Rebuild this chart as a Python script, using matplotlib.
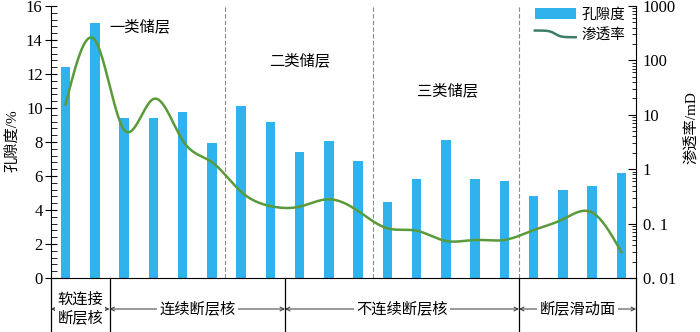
import numpy as np
import matplotlib
matplotlib.use("Agg")
import matplotlib.pyplot as plt
from matplotlib.lines import Line2D
from matplotlib.legend_handler import HandlerLine2D
from matplotlib.ticker import MultipleLocator, LogLocator, FixedLocator, FixedFormatter, NullFormatter

plt.rcParams['font.family'] = ['Liberation Serif', 'Noto Sans CJK SC']
plt.rcParams['axes.unicode_minus'] = False

# ---- data ----
porosity = [12.4, 15.0, 9.4, 9.4, 9.75, 7.95, 10.1, 9.2, 7.4, 8.05,
            6.9, 4.45, 5.8, 8.1, 5.85, 5.7, 4.8, 5.2, 5.4, 6.2]
permeability = [15.6, 237, 5.3, 19.5, 3.4, 1.35, 0.385, 0.21, 0.205, 0.28,
                0.17, 0.082, 0.074, 0.048, 0.05, 0.05, 0.076, 0.12, 0.16, 0.030]
reservoir_labels = ['一类储层', '二类储层', '三类储层']
zone_labels = ['软连接\n断层核', '连续断层核', '不连续断层核', '断层滑动面']
zone_bounds = [-0.5, 1.5, 7.5, 15.5, 19.5]
class_bounds = [5.45, 10.52, 15.5]
right_ticks = [0.01, 0.1, 1, 10, 100, 1000]
right_ticklabels = ['0. 01', '0. 1', '1', '10', '100', '1000']

BAR_C = '#30b2ec'
LINE_C = '#5b9a3a'
LEG_LINE_C = '#3b7f64'


def natural_spline(x, y, xs):
    x = np.asarray(x, float); y = np.asarray(y, float)
    n = len(x)
    h = np.diff(x)
    A = np.zeros((n, n)); b = np.zeros(n)
    A[0, 0] = 1; A[-1, -1] = 1
    for i in range(1, n - 1):
        A[i, i - 1] = h[i - 1]
        A[i, i] = 2 * (h[i - 1] + h[i])
        A[i, i + 1] = h[i]
        b[i] = 6 * ((y[i + 1] - y[i]) / h[i] - (y[i] - y[i - 1]) / h[i - 1])
    M = np.linalg.solve(A, b)
    idx = np.clip(np.searchsorted(x, xs) - 1, 0, n - 2)
    x0 = x[idx]; x1 = x[idx + 1]; hh = x1 - x0
    t0 = x1 - xs; t1 = xs - x0
    return (M[idx] * t0 ** 3 / (6 * hh) + M[idx + 1] * t1 ** 3 / (6 * hh)
            + (y[idx] / hh - M[idx] * hh / 6) * t0
            + (y[idx + 1] / hh - M[idx + 1] * hh / 6) * t1)


class WavyHandler(HandlerLine2D):
    def create_artists(self, legend, orig_handle, xdescent, ydescent,
                       width, height, fontsize, trans):
        t = np.linspace(0, 1, 60)
        xx = -xdescent + t * width
        yy = (height / 2 - ydescent) + 0.28 * height * np.tanh((0.5 - t) * 8) * 0 \
            + 0.3 * height * (-np.tanh((t - 0.55) * 9)) * (t > -1)
        # ~ shape: flat, dip, flat
        yy = (height / 2 - ydescent) + 0.3 * height * np.where(
            t < 0.5, np.cos(np.pi * np.clip(t / 0.5, 0, 1)) * 0.0 + 0.0, 0)
        yy = (height / 2 - ydescent) - 0.3 * height * np.tanh((t - 0.5) * 7)
        ln = Line2D(xx, yy, color=LEG_LINE_C, lw=1.8)
        ln.set_transform(trans)
        return [ln]


fig = plt.figure(figsize=(7.0, 3.32), dpi=100)
ax = fig.add_axes([51 / 700, 54 / 332, 585 / 700, 272 / 332])
x = np.arange(len(porosity))
bars = ax.bar(x, porosity, width=0.32, color=BAR_C, label='孔隙度', zorder=2)
ax.set_xlim(-0.5, 19.5)
ax.set_ylim(0, 16)
ax.set_xticks([])
ax.yaxis.set_major_locator(MultipleLocator(2))
ax.yaxis.set_minor_locator(MultipleLocator(0.4))
ax.tick_params(axis='y', which='major', direction='inout', length=8, width=0.8,
               labelsize=12, pad=2)
ax.tick_params(axis='y', which='minor', direction='in', length=4, width=0.6)
for s in ['top', 'right']:
    ax.spines[s].set_visible(False)
ax.spines['bottom'].set_linewidth(0.8)
ax.spines['left'].set_linewidth(0.8)

for cb in class_bounds:
    ax.axvline(cb, color='#8a8a8a', ls=(0, (4, 2)), lw=0.8, zorder=1)

ax2 = ax.twinx()
ax2.set_yscale('log')
ax2.set_ylim(0.01, 1000)
ax2.set_xlim(-0.5, 19.5)
xs = np.linspace(0, len(permeability) - 1, 600)
ys = 10 ** natural_spline(x, np.log10(permeability), xs)
line, = ax2.plot(xs, ys, color=LINE_C, lw=1.8, label='渗透率', zorder=3)
ax2.yaxis.set_major_locator(FixedLocator(right_ticks))
ax2.yaxis.set_major_formatter(FixedFormatter(right_ticklabels))
ax2.yaxis.set_minor_locator(LogLocator(base=10, subs=np.arange(2, 10), numticks=20))
ax2.yaxis.set_minor_formatter(NullFormatter())
ax2.tick_params(axis='y', which='major', direction='in', length=6, width=0.8,
                labelsize=12, pad=5)
ax2.tick_params(axis='y', which='minor', direction='in', length=3, width=0.6)
for s in ['top', 'left', 'bottom']:
    ax2.spines[s].set_visible(False)
ax2.spines['right'].set_linewidth(0.8)

# reservoir class labels
ax.text(2.55, 14.75, reservoir_labels[0], fontsize=11, ha='center', va='center')
ax.text(8.0, 12.75, reservoir_labels[1], fontsize=11, ha='center', va='center')
ax.text(13.05, 11.0, reservoir_labels[2], fontsize=11, ha='center', va='center')

# legend
ax2.legend(handles=[bars, line], loc='upper left',
           bbox_to_anchor=(478 / 585, 1.015), frameon=False, fontsize=10.5,
           handlelength=2.8, handleheight=0.8, labelspacing=0.45,
           handletextpad=0.4, borderaxespad=0,
           handler_map={line: WavyHandler()})

# bottom zone section
tr = ax.get_xaxis_transform()
ybot = -0.2
for xb in zone_bounds:
    ax.plot([xb, xb], [0, ybot], transform=tr, color='black', lw=0.9, clip_on=False)
yarr = -0.114
for i, lab in enumerate(zone_labels):
    a, b = zone_bounds[i], zone_bounds[i + 1]
    ax.annotate('', xy=(a, yarr), xytext=(b, yarr), xycoords=tr, textcoords=tr,
                arrowprops=dict(arrowstyle='<->', lw=0.7, color='#333333',
                                mutation_scale=7, shrinkA=0, shrinkB=0))
    ax.text((a + b) / 2, yarr, lab, transform=tr, ha='center', va='center',
            fontsize=11, linespacing=1.3,
            bbox=dict(facecolor='white', edgecolor='none', pad=1.5))

fig.text(12 / 700, 0.575, '孔隙度/%', rotation=90, ha='center', va='center', fontsize=11)
fig.text(692 / 700, 0.615, '渗透率/mD', rotation=90, ha='center', va='center', fontsize=11)

fig.savefig('out.png', dpi=100)
